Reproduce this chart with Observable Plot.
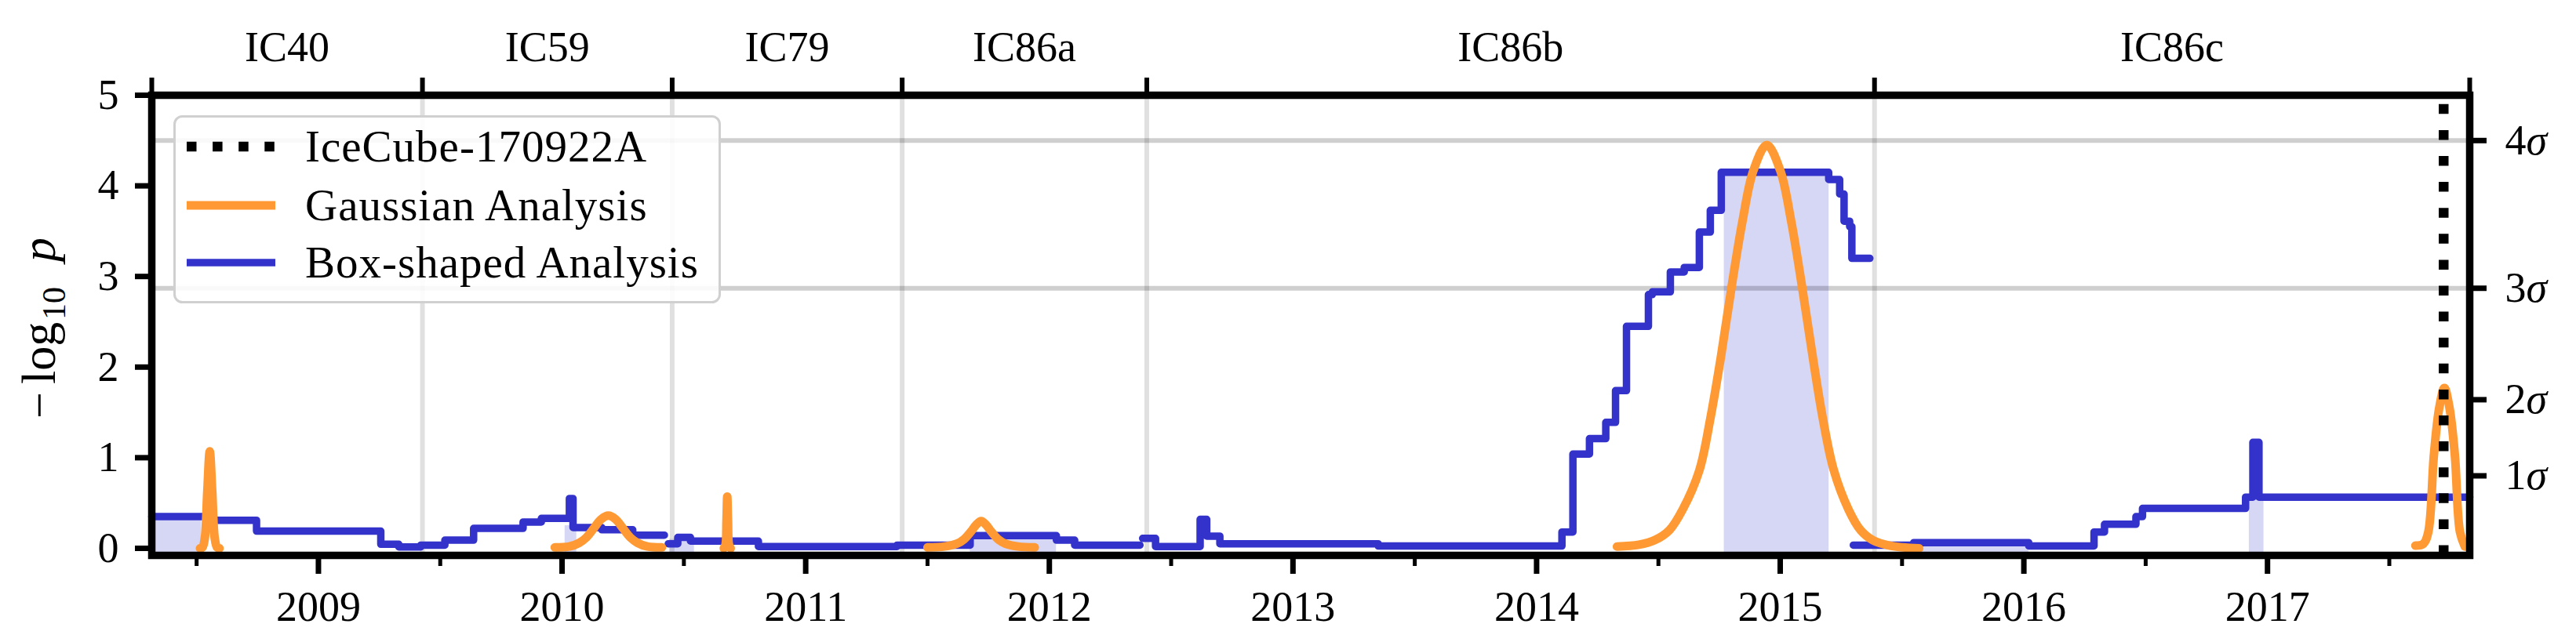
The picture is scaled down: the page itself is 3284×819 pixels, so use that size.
<!DOCTYPE html>
<html><head><meta charset="utf-8">
<script src="https://cdn.jsdelivr.net/npm/d3@7"></script>
<script src="https://cdn.jsdelivr.net/npm/@observablehq/plot@0.6"></script>
<style>
html,body{margin:0;padding:0;background:#fff;}
#wrap{position:relative;width:3284px;height:819px;overflow:hidden;}
#legend{position:absolute;left:221px;top:147px;}
</style></head><body>
<div id="wrap"></div>
<script>
// ---------- data ----------
const seasonNames  = ["IC40", "IC59", "IC79", "IC86a", "IC86b", "IC86c"];
const seasonBounds = [2008.316, 2009.427, 2010.452, 2011.396, 2012.40, 2015.387, 2017.83];
const yearTicks     = [2009, 2010, 2011, 2012, 2013, 2014, 2015, 2016, 2017];
const halfYearTicks = [2008.5, 2009.5, 2010.5, 2011.5, 2012.5, 2013.5, 2014.5, 2015.5, 2016.5, 2017.5];
const pTicks      = [0, 1, 2, 3, 4, 5];
const sigmaTicks  = [0.80, 1.64, 2.87, 4.50];
const sigmaLabels = ["1σ", "2σ", "3σ", "4σ"];
const sigmaGrid   = [2.87, 4.50];
const alertTime   = [2017.723];
const legendLabels = ["IceCube-170922A", "Gaussian Analysis", "Box-shaped Analysis"];

// Box-shaped analysis (step curve: value holds until next time)
const boxIC40_59 = [
  [2008.316, 0.35], [2008.57, 0.31], [2008.746, 0.19], [2009.256, 0.045], [2009.33, 0.015],
  [2009.42, 0.035], [2009.519, 0.09], [2009.637, 0.22], [2009.84, 0.29], [2009.915, 0.33],
  [2010.03, 0.55], [2010.045, 0.23], [2010.163, 0.205], [2010.29, 0.145], [2010.42, 0.145]
];
const boxIC79_86a = [
  [2010.436, 0.05], [2010.475, 0.12], [2010.527, 0.08], [2010.806, 0.02], [2011.375, 0.035],
  [2011.675, 0.14], [2012.029, 0.09], [2012.104, 0.035], [2012.372, 0.035]
];
const boxIC86b = [
  [2012.383, 0.11], [2012.436, 0.02], [2012.619, 0.32], [2012.646, 0.135], [2012.70, 0.05],
  [2013.35, 0.025], [2014.104, 0.18], [2014.149, 1.04], [2014.217, 1.21], [2014.284, 1.39],
  [2014.324, 1.74], [2014.369, 2.45], [2014.459, 2.80], [2014.475, 2.83], [2014.549, 3.05],
  [2014.606, 3.10], [2014.668, 3.49], [2014.713, 3.73], [2014.758, 4.15], [2015.199, 4.07],
  [2015.244, 3.91], [2015.262, 3.61], [2015.285, 3.55], [2015.294, 3.20], [2015.368, 3.20]
];
const boxIC86c = [
  [2015.30, 0.035], [2015.548, 0.063], [2016.02, 0.026], [2016.288, 0.18], [2016.331, 0.265],
  [2016.46, 0.35], [2016.487, 0.44], [2016.91, 0.565], [2016.94, 1.17], [2016.965, 0.565],
  [2017.83, 0.565]
];

// Gaussian analysis flares
const gauss2008 = [[2008.514,0.0],[2008.524,0.01],[2008.534,0.12],[2008.544,0.63],[2008.554,1.07],[2008.564,0.63],[2008.574,0.12],[2008.584,0.01],[2008.594,0.0]];
const gauss2010a = [[2009.97,0.01],[2010.03,0.02],[2010.07,0.06],[2010.10,0.12],[2010.13,0.22],[2010.16,0.32],[2010.19,0.36],[2010.22,0.32],[2010.25,0.22],[2010.28,0.12],[2010.31,0.06],[2010.35,0.02],[2010.41,0.01]];
const gauss2010b = [[2010.664,0.0],[2010.671,0.04],[2010.675,0.30],[2010.678,0.57],[2010.681,0.30],[2010.685,0.04],[2010.692,0.0]];
const gauss2011 = [[2011.50,0.01],[2011.57,0.02],[2011.62,0.05],[2011.65,0.10],[2011.68,0.19],[2011.70,0.26],[2011.72,0.30],[2011.74,0.26],[2011.76,0.19],[2011.79,0.10],[2011.82,0.05],[2011.87,0.02],[2011.94,0.01]];
const gauss2014 = [[2014.33,0.02],[2014.42,0.04],[2014.485,0.09],[2014.545,0.20],[2014.60,0.43],[2014.668,0.86],[2014.713,1.43],[2014.757,2.12],[2014.80,2.88],[2014.845,3.61],[2014.89,4.17],[2014.945,4.45],[2015.00,4.17],[2015.045,3.61],[2015.09,2.88],[2015.133,2.12],[2015.175,1.43],[2015.22,0.86],[2015.28,0.43],[2015.33,0.20],[2015.38,0.09],[2015.45,0.03],[2015.57,0.0]];
const gauss2017 = [[2017.607,0.03],[2017.64,0.05],[2017.66,0.18],[2017.683,1.03],[2017.705,1.55],[2017.726,1.77],[2017.747,1.55],[2017.769,1.03],[2017.79,0.18],[2017.81,0.02]];

// Best-fit box windows (shaded)
const shadeStart = [2008.316, 2010.012, 2010.441, 2011.675, 2014.77, 2015.548, 2016.925];
const shadeEnd   = [2008.52, 2010.06, 2010.543, 2012.029, 2015.20, 2016.02, 2016.985];
const shadeTop   = [0.35, 0.25, 0.10, 0.14, 4.15, 0.09, 0.55];

// ---------- style ----------
const FONT = "'Liberation Serif', 'DejaVu Serif', serif";
const FS = 54;
const BLUE = "#3333cc", ORANGE = "#ff9933";
const X_DOMAIN = [seasonBounds[0], seasonBounds[seasonBounds.length - 1]];
const Y_DOMAIN = [-0.078, 5];

const boxSegments = [boxIC40_59, boxIC79_86a, boxIC86b, boxIC86c];
const gaussFlares = [gauss2008, gauss2010a, gauss2010b, gauss2011, gauss2014, gauss2017];
const seasonMid = seasonNames.map((d, i) => (seasonBounds[i] + seasonBounds[i + 1]) / 2);

const line = (data, opts) => Plot.line(data, {x: d => d[0], y: d => d[1], ...opts});

const chart = Plot.plot({
  width: 3284, height: 819,
  marginLeft: 193, marginRight: 136, marginTop: 121, marginBottom: 111,
  style: {fontFamily: FONT, fontSize: FS + "px", background: "#fff", color: "#000"},
  x: {domain: X_DOMAIN},
  y: {domain: Y_DOMAIN},
  marks: [
    Plot.rect(shadeStart, {x1: d => d, x2: (d, i) => shadeEnd[i], y1: Y_DOMAIN[0], y2: (d, i) => shadeTop[i], fill: BLUE, fillOpacity: 0.2}),
    Plot.ruleX(seasonBounds.slice(1, -1), {stroke: "#000", strokeOpacity: 0.12, strokeWidth: 6}),
    Plot.ruleY(sigmaGrid, {stroke: "#000", strokeOpacity: 0.19, strokeWidth: 6}),
    ...boxSegments.map(s => line(s, {curve: "step-after", stroke: BLUE, strokeWidth: 9.5, strokeLinejoin: "round"})),
    ...gaussFlares.map(g => line(g, {curve: "catmull-rom", stroke: ORANGE, strokeWidth: 11})),
    Plot.ruleX(alertTime, {y1: Y_DOMAIN[0], y2: Y_DOMAIN[1], stroke: "#000", strokeWidth: 12.5, strokeDasharray: "12.5,20.6", strokeLinecap: "butt"}),
    Plot.frame({stroke: "#000", strokeWidth: 9.5}),
    Plot.axisX({anchor: "bottom", ticks: yearTicks, tickSize: 24, strokeWidth: 7, tickPadding: 21, tickFormat: d => String(d), label: null, fontSize: FS}),
    Plot.axisX({anchor: "bottom", ticks: halfYearTicks, tickSize: 14, strokeWidth: 5, tickFormat: () => "", label: null}),
    Plot.axisX({anchor: "top", ticks: seasonBounds, tickSize: 23, strokeWidth: 6, tickFormat: () => "", label: null}),
    Plot.text(seasonNames, {x: (d, i) => seasonMid[i], frameAnchor: "top", dy: -61, lineAnchor: "middle", fontSize: FS}),
    Plot.axisY({anchor: "left", ticks: pTicks, tickSize: 21, strokeWidth: 7, tickPadding: 21, tickFormat: d => String(d), label: null, fontSize: FS}),
    Plot.axisY({anchor: "right", ticks: sigmaTicks, tickSize: 21, strokeWidth: 7, tickPadding: 24, tickFormat: d => sigmaLabels[sigmaTicks.indexOf(d)], label: null, fontSize: FS})
  ]
});

const NS = "http://www.w3.org/2000/svg";
// italic sigma in right-axis labels
chart.querySelectorAll("text").forEach(t => {
  const s = t.textContent;
  if (s && s.endsWith("σ") && s.length <= 3) {
    t.textContent = "";
    const a = document.createElementNS(NS, "tspan"); a.textContent = s.slice(0, -1);
    const b = document.createElementNS(NS, "tspan"); b.textContent = "σ"; b.setAttribute("font-style", "italic");
    t.append(a, b);
  }
});
// y label: −log10 p  (rotated; pieces laid out along the rotated baseline)
{
  const yl = document.createElementNS(NS, "text");
  yl.setAttribute("transform", "translate(70,534) rotate(-90)");
  yl.setAttribute("text-anchor", "start");
  yl.setAttribute("style", `font-family:${FONT};font-size:60px;fill:#000`);
  const parts = [
    {t: "−", x: 0, dy: 0, fs: 60},
    {t: "log", x: 44, dy: 0, fs: 62},
    {t: "10", x: 126, dy: 13, fs: 42},
    {t: "p", x: 200, dy: -13, fs: 62, it: true}
  ];
  parts.forEach(p => {
    const ts = document.createElementNS(NS, "tspan");
    ts.textContent = p.t;
    ts.setAttribute("x", p.x);
    ts.setAttribute("dy", p.dy);
    ts.setAttribute("style", `font-size:${p.fs}px${p.it ? ";font-style:italic" : ""}`);
    yl.append(ts);
  });
  chart.append(yl);
}
document.getElementById("wrap").append(chart);

// legend
const legendStyles = [
  {stroke: "#000", width: 12.5, dash: "12.5,20.6"},
  {stroke: ORANGE, width: 11, dash: null},
  {stroke: BLUE, width: 9.5, dash: null}
];
const rowY = [40, 115, 188];
const leg = d3.create("svg").attr("id", "legend").attr("width", 698).attr("height", 240)
  .attr("style", `font-family:${FONT};font-size:57px;letter-spacing:1px`);
leg.append("rect").attr("x", 1.5).attr("y", 1.5).attr("width", 695).attr("height", 237)
  .attr("rx", 10).attr("fill", "#fff").attr("fill-opacity", 0.88).attr("stroke", "#d0d0d0").attr("stroke-width", 3);
legendLabels.forEach((lab, i) => {
  const st = legendStyles[i];
  const ln = leg.append("line").attr("x1", 17).attr("x2", 130).attr("y1", rowY[i]).attr("y2", rowY[i])
    .attr("stroke", st.stroke).attr("stroke-width", st.width);
  if (st.dash) ln.attr("stroke-dasharray", st.dash);
  leg.append("text").attr("x", 168).attr("y", rowY[i] + 19).attr("fill", "#000").text(lab);
});
document.getElementById("wrap").append(leg.node());
</script>
</body></html>
